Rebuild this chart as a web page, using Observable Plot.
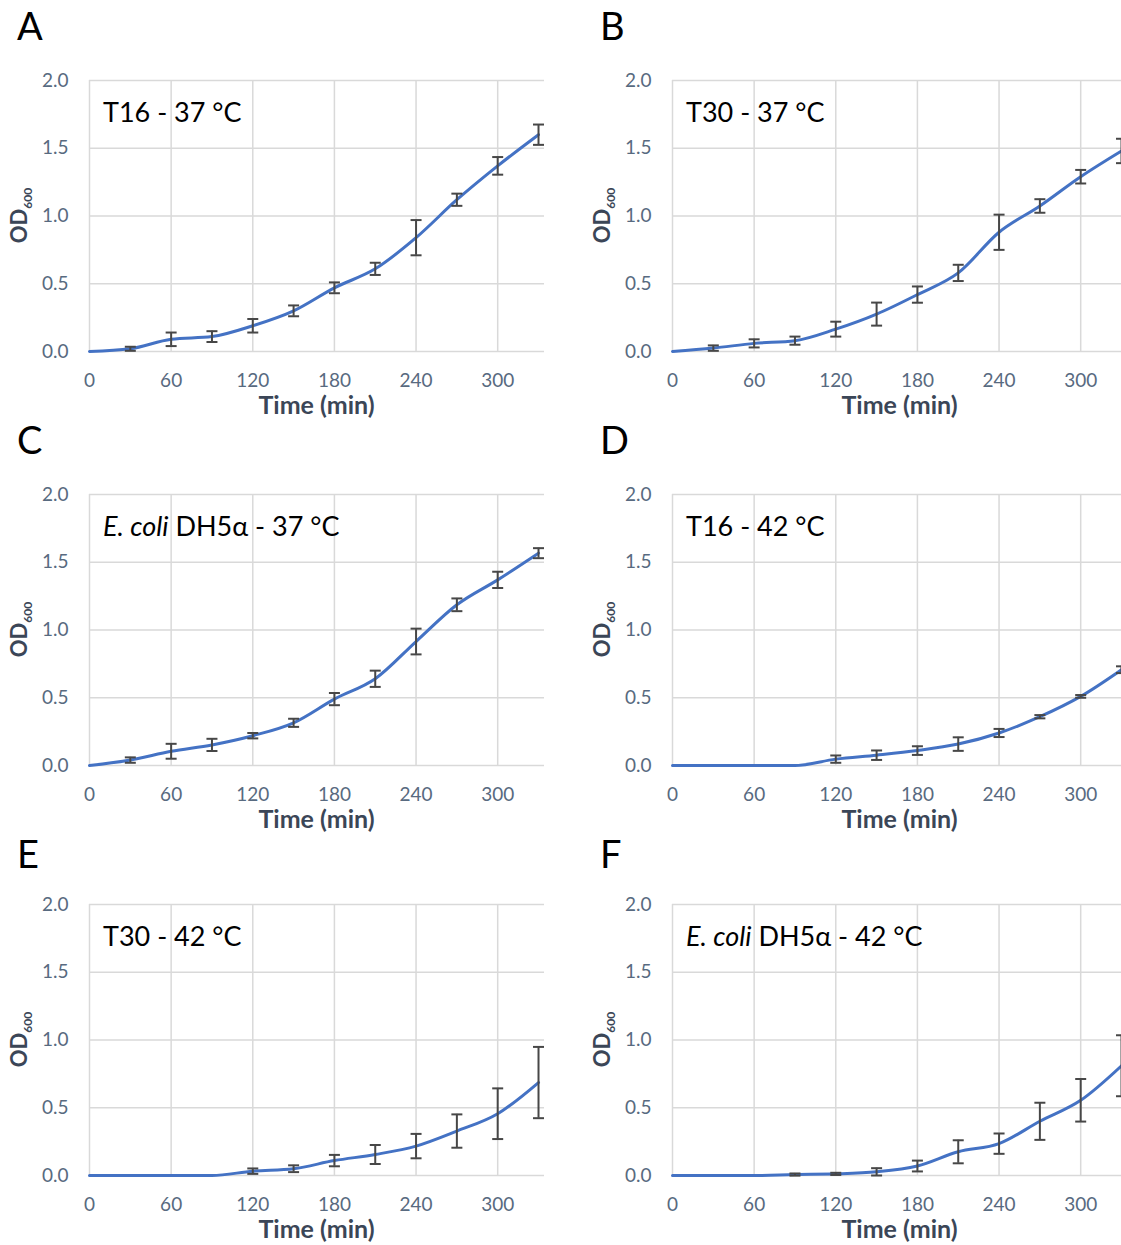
<!DOCTYPE html>
<html><head><meta charset="utf-8">
<script src="https://cdn.jsdelivr.net/npm/d3@7"></script>
<script src="https://cdn.jsdelivr.net/npm/@observablehq/plot@0.6"></script>
<style>
html,body{margin:0;padding:0;overflow:hidden;background:#fff;}
#root{position:relative;width:1121px;height:1245px;overflow:hidden;background:#fff;}
.panel{position:absolute;}
.panel svg{max-width:none !important;display:block;background:transparent;}
</style></head><body><div id="root"></div>
<script>
// ---- data ----
const time = [0,30,60,90,120,150,180,210,240,270,300,330];
const xTicks = [0,60,120,180,240,300];
const yTicks = [0,0.5,1,1.5,2];

const t16_37_mean = [0,0.02,0.09,0.11,0.19,0.30,0.47,0.61,0.84,1.12,1.37,1.60];
const t16_37_sd   = [0,0.015,0.05,0.04,0.05,0.04,0.04,0.045,0.13,0.045,0.065,0.075];

const t30_37_mean = [0,0.025,0.06,0.08,0.165,0.276,0.42,0.58,0.88,1.074,1.29,1.48];
const t30_37_sd   = [0,0.02,0.03,0.03,0.055,0.085,0.06,0.06,0.13,0.05,0.05,0.09];

const dh5a_37_mean = [0,0.04,0.105,0.152,0.22,0.315,0.49,0.64,0.915,1.186,1.37,1.567];
const dh5a_37_sd   = [0,0.02,0.055,0.045,0.02,0.03,0.045,0.06,0.095,0.047,0.06,0.037];

const t16_42_mean = [0,0,0,0,0.047,0.076,0.11,0.158,0.24,0.36,0.51,0.707];
const t16_42_sd   = [0,0,0,0,0.027,0.035,0.032,0.05,0.03,0.012,0.01,0.025];

const t30_42_mean = [0,0,0,0,0.032,0.05,0.11,0.155,0.217,0.328,0.456,0.686];
const t30_42_sd   = [0,0,0,0,0.02,0.025,0.042,0.07,0.09,0.123,0.187,0.263];

const dh5a_42_mean = [0,0,0,0.007,0.012,0.027,0.07,0.175,0.235,0.40,0.555,0.81];
const dh5a_42_sd   = [0,0,0,0.008,0.008,0.027,0.04,0.085,0.075,0.137,0.157,0.225];

const panelLetters = ["A","B","C","D","E","F"];
const panelTitles = [
  [["T16 - 37 °C", false]],
  [["T30 - 37 °C", false]],
  [["E. coli", true], [" DH5α - 37 °C", false]],
  [["T16 - 42 °C", false]],
  [["T30 - 42 °C", false]],
  [["E. coli", true], [" DH5α - 42 °C", false]]
];
const panelMeans = [t16_37_mean, t30_37_mean, dh5a_37_mean, t16_42_mean, t30_42_mean, dh5a_42_mean];
const panelSds = [t16_37_sd, t30_37_sd, dh5a_37_sd, t16_42_sd, t30_42_sd, dh5a_42_sd];
const xLabel = "Time (min)";

// ---- layout ----
const rowTops = [0, 414, 824];
const rowHeights = [430, 430, 421];
const colLefts = [0, 583];
const colWidths = [560, 545];
const letterBaselines = [40, 40, 44];
const mL = 89, mT = 80, plotW = 455, plotH = 271;

const capSymbol = {
  draw(ctx) { ctx.moveTo(-5.5, 0); ctx.lineTo(5.5, 0); }
};

const root = document.getElementById("root");
panelLetters.forEach((letter, i) => {
  const row = Math.floor(i / 2), col = i % 2;
  const W = colWidths[col], H = rowHeights[row];
  const data = time.map((t, k) => ({t, v: panelMeans[i][k], sd: panelSds[i][k]}));
  const errs = data.filter(d => d.sd > 0);
  const gridStyle = {stroke: "#d9d9d9", strokeOpacity: 1, strokeWidth: 1.5};
  const errStyle = {stroke: "#474747", strokeWidth: 2};
  const svg = Plot.plot({
    width: W, height: H,
    marginLeft: mL, marginTop: mT,
    marginRight: W - mL - plotW, marginBottom: H - mT - plotH,
    style: {fontFamily: "Lato, sans-serif", fontSize: "19px", color: "#586a80", background: "transparent", maxWidth: "none"},
    x: {domain: [0, 334.4]},
    y: {domain: [0, 2]},
    marks: [
      Plot.gridY(yTicks, gridStyle),
      Plot.gridX(xTicks, gridStyle),
      Plot.axisX(xTicks, {tickSize: 0, tickPadding: 22, label: null}),
      Plot.axisY(yTicks, {tickSize: 0, tickPadding: 21, label: null, tickFormat: d => d.toFixed(1)}),
      Plot.line(data, {x: "t", y: "v", curve: "monotone-x", stroke: "#4472C4", strokeWidth: 3}),
      Plot.ruleX(errs, {x: "t", y1: d => d.v - d.sd, y2: d => d.v + d.sd, ...errStyle}),
      Plot.dot(errs, {x: "t", y: d => d.v - d.sd, symbol: capSymbol, fill: "none", ...errStyle}),
      Plot.dot(errs, {x: "t", y: d => d.v + d.sd, symbol: capSymbol, fill: "none", ...errStyle})
    ]
  });
  const s = d3.select(svg);
  // panel letter
  s.append("text").attr("x", 17).attr("y", letterBaselines[row]).attr("text-anchor", "start")
    .style("font-family", "Lato, sans-serif").style("font-size", "38px").style("fill", "#000")
    .text(letter);
  // inset title
  const tt = s.append("text").attr("x", mL + 14).attr("y", mT + 42).attr("text-anchor", "start")
    .style("font-family", "Lato, sans-serif").style("font-size", "27px").style("fill", "#000")
    .style("white-space", "pre");
  panelTitles[i].forEach(([txt, it]) => {
    tt.append("tspan").style("font-style", it ? "italic" : "normal").text(txt);
  });
  // x label
  s.append("text").attr("x", mL + plotW / 2).attr("y", mT + plotH + 63)
    .attr("text-anchor", "middle")
    .style("font-family", "Lato, sans-serif").style("font-size", "25px").style("font-weight", "bold")
    .style("fill", "#3b4657").text(xLabel);
  // y label OD600
  const yl = s.append("text").attr("transform", `translate(27,${mT + plotH / 2}) rotate(-90)`)
    .attr("text-anchor", "middle")
    .style("font-family", "Lato, sans-serif").style("font-weight", "bold").style("fill", "#3b4657");
  yl.append("tspan").style("font-size", "22px").text("OD");
  yl.append("tspan").style("font-size", "12px").attr("dy", 5).text("600");

  const div = document.createElement("div");
  div.className = "panel";
  div.style.left = colLefts[col] + "px";
  div.style.top = rowTops[row] + "px";
  div.style.width = W + "px";
  div.appendChild(svg);
  root.appendChild(div);
});
</script>
</body></html>
